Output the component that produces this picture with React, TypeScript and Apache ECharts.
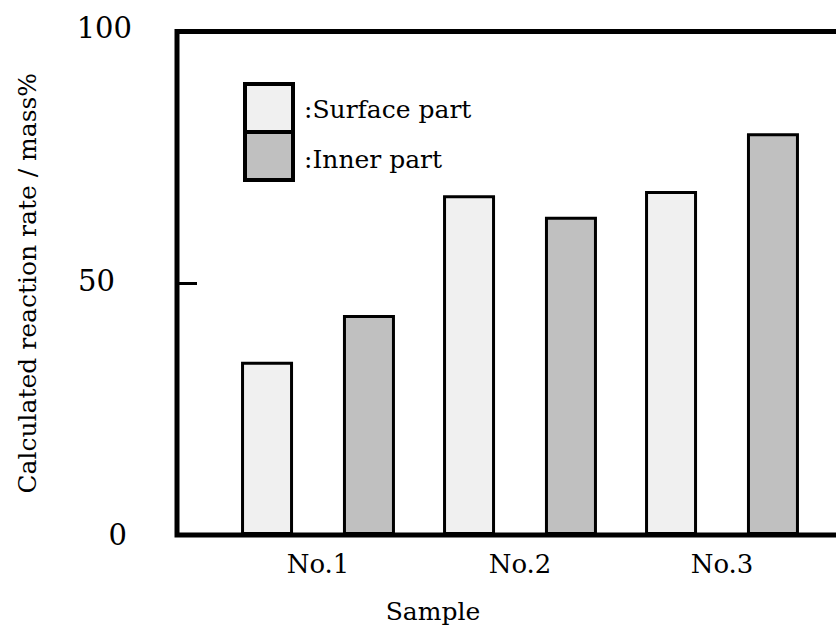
import React, { useEffect, useRef } from "react";
import * as echarts from "echarts";

const categories = ["No.1", "No.2", "No.3"];
const surfaceValues = [34.4, 67.5, 68.3];
const innerValues = [43.7, 63.2, 79.8];
const yTicks = [0, 50, 100];
const seriesNames = ["Surface part", "Inner part"];
const seriesColors = ["#f0f0f0", "#c0c0c0"];

const FONT = "DejaVu Serif";

export default function App() {
  const ref = useRef<HTMLDivElement>(null);
  useEffect(() => {
    document.body.style.margin = "0";
    if (!ref.current) return;
    const chart = echarts.init(ref.current, null, { renderer: "svg" });
    const labelPad: Record<string, number[]> = {
      v0: [0, 5, 0, 0],
      v50: [0, 17, 4, 0],
      v100: [0, 0, 8, 0],
    };
    const rich: Record<string, any> = {};
    yTicks.forEach((t) => {
      rich["v" + t] = { fontFamily: FONT, fontSize: 29, color: "#000", padding: labelPad["v" + t] };
    });
    const legendBoxes = seriesColors.map((c, i) => ({
      type: "rect",
      shape: { x: 245, y: 84 + i * 48, width: 48, height: 48 },
      style: { fill: c, stroke: "#000", lineWidth: 4 },
      z: 100,
    }));
    chart.setOption({
      animation: false,
      backgroundColor: "#fff",
      grid: [
        {
          left: 177,
          top: 31.5,
          width: 720,
          height: 503.5,
          show: true,
          borderColor: "#000",
          borderWidth: 5,
          backgroundColor: "transparent",
          outerBoundsMode: "none",
          containLabel: false,
        },
        { left: 217, top: 31.5, width: 606, height: 503.5, outerBoundsMode: "none", containLabel: false },
      ],
      xAxis: [
        { gridIndex: 0, type: "value", min: 0, max: 1, show: false },
        {
          gridIndex: 1,
          type: "category",
          data: categories,
          axisLine: { show: false },
          axisTick: { show: false },
          axisLabel: { fontFamily: FONT, fontSize: 26, color: "#000", margin: 16 },
        },
      ],
      yAxis: [
        {
          gridIndex: 0,
          type: "value",
          min: 0,
          max: 100,
          interval: 50,
          splitLine: { show: false },
          axisLine: { show: false },
          axisTick: { show: true, inside: true, length: 20, lineStyle: { color: "#000", width: 3 } },
          axisLabel: {
            margin: 45,
            formatter: (v: number) => `{v${v}|${v}}`,
            rich,
          },
          name: "Calculated reaction rate / mass%",
          nameLocation: "middle",
          nameGap: 137,
          nameTextStyle: { fontFamily: FONT, fontSize: 25, color: "#000" },
        },
        { gridIndex: 1, type: "value", min: 0, max: 100, show: false },
      ],
      legend: {
        orient: "vertical",
        left: 245,
        top: 84,
        padding: 0,
        itemWidth: 48,
        itemHeight: 48,
        itemGap: 0,
        icon: "rect",
        data: seriesNames,
        formatter: (n: string) => ":" + n,
        itemStyle: { opacity: 0 },
        textStyle: { fontFamily: FONT, fontSize: 25, color: "#000", padding: [4, 0, 0, 5] },
      },
      series: [
        {
          name: seriesNames[0],
          type: "bar",
          xAxisIndex: 1,
          yAxisIndex: 1,
          data: surfaceValues,
          barWidth: 52,
          barGap: "96%",
          itemStyle: { color: seriesColors[0], borderColor: "#000", borderWidth: 3 },
        },
        {
          name: seriesNames[1],
          type: "bar",
          xAxisIndex: 1,
          yAxisIndex: 1,
          data: innerValues,
          barWidth: 52,
          barGap: "96%",
          itemStyle: { color: seriesColors[1], borderColor: "#000", borderWidth: 3 },
        },
      ],
      graphic: [
        ...legendBoxes,
        {
          type: "text",
          x: 433,
          y: 611,
          style: {
            text: "Sample",
            fontFamily: FONT,
            fontSize: 25,
            fill: "#000",
            textAlign: "center",
            textVerticalAlign: "middle",
          },
        },
      ],
    });
    return () => chart.dispose();
  }, []);
  return <div ref={ref} style={{ width: 836, height: 628 }} />;
}
